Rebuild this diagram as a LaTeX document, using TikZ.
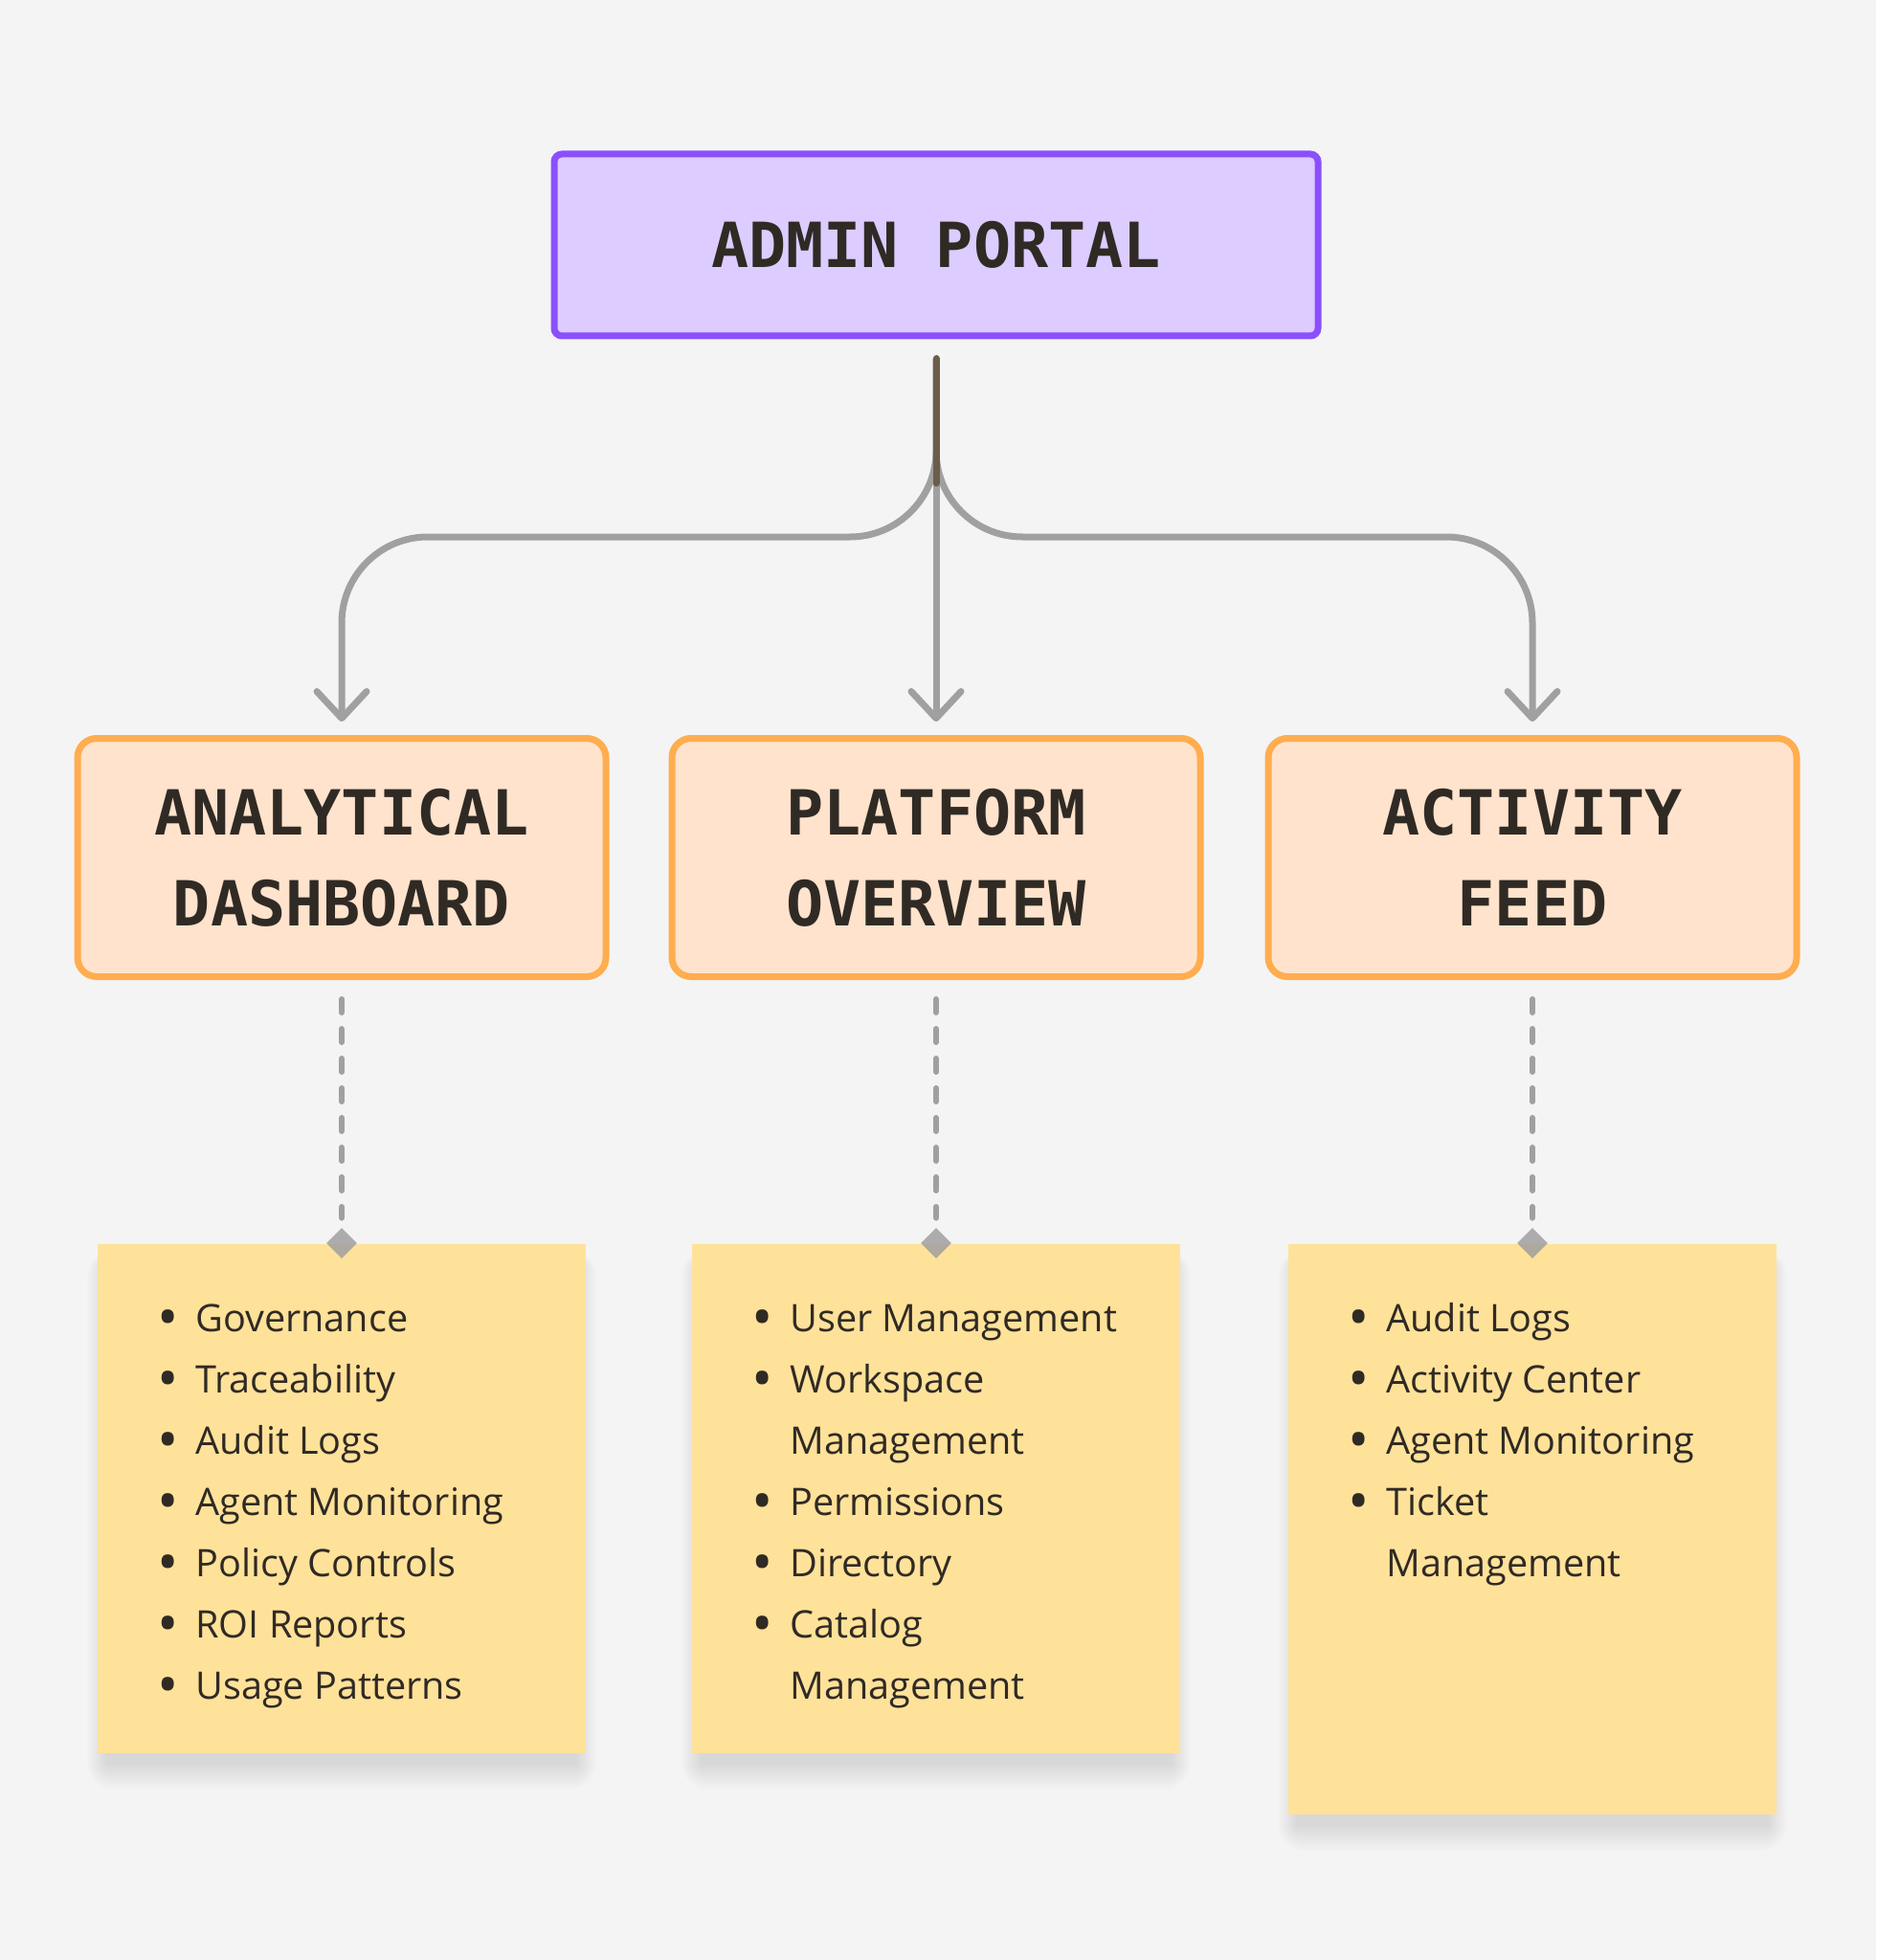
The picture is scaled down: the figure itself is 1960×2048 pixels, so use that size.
\documentclass[tikz,border=0pt]{standalone}
\usepackage{fontspec}
\setmainfont{Open Sans}
\newfontfamily\boxfont{DejaVu Sans Mono}
\usetikzlibrary{arrows.meta,shapes.geometric}

\definecolor{canvas}{HTML}{F4F4F4}
\definecolor{portalfill}{HTML}{DDCCFF}
\definecolor{portalline}{HTML}{8B50FC}
\definecolor{modfill}{HTML}{FFE3CC}
\definecolor{modline}{HTML}{FFAD4F}
\definecolor{notefill}{HTML}{FFE299}
\definecolor{linkgray}{HTML}{A0A0A0}
\definecolor{stemdark}{HTML}{6B5E48}
\definecolor{inkdark}{HTML}{302A25}

% bullet and hanging indent for the note lists
\newcommand{\itembul}{\strut\makebox[20pt][l]{\raisebox{-0.15em}{\scalebox{1.5}{\textbullet}}}}
\newcommand{\itemgap}{\hspace*{20pt}}

\begin{document}
\begin{tikzpicture}[x=0.5pt,y=-0.5pt,
  portal/.style={draw=portalline, fill=portalfill, line width=3.5pt, rounded corners=4pt,
    minimum width=399pt, minimum height=95pt, inner sep=0pt, text=inkdark,
    font=\boxfont\bfseries\fontsize{32.5pt}{47.5pt}\selectfont},
  module/.style={draw=modline, fill=modfill, line width=3.5pt, rounded corners=10pt,
    minimum width=276pt, minimum height=124.5pt, inner sep=0pt, align=center, text=inkdark,
    font=\boxfont\bfseries\fontsize{32.5pt}{47.5pt}\selectfont},
  note/.style={anchor=north, fill=notefill, minimum width=255pt, inner sep=0pt},
  notesh/.style={black, opacity=.008},
  items/.style={anchor=north west, inner sep=0pt, align=left, text=inkdark,
    font=\fontsize{19.8pt}{32pt}\selectfont},
  pin/.style={diamond, fill=linkgray, fill opacity=.85, minimum size=16pt, inner sep=0pt},
  link/.style={draw=linkgray, line width=3.5pt, rounded corners=45pt,
    -{Straight Barb[length=14pt,width=26pt,round]}, shorten <=10pt, shorten >=7pt},
  dashlink/.style={draw=linkgray, line width=3pt, line cap=round,
    dash pattern=on 7pt off 8.5pt, shorten <=10pt, shorten >=5pt},
  stem/.style={draw=stemdark, line width=3.5pt, line cap=round, shorten <=10pt}]

  \fill[canvas] (0,0) rectangle (1960,2048);
  \useasboundingbox (0,0) rectangle (1960,2048);

  % top
  \node[portal] (portal) at (978,256) {ADMIN PORTAL};

  % modules
  \node[module] (ana)  at (357,896)  {ANALYTICAL\\DASHBOARD};
  \node[module] (plat) at (978,896)  {PLATFORM\\OVERVIEW};
  \node[module] (act)  at (1601,896) {ACTIVITY\\FEED};

  % connectors
  \coordinate (hbar)  at (978,561);
  \coordinate (split) at (978,505);
  \draw[link] (portal.south) -- (hbar) -| (ana.north);
  \draw[link] (portal.south) -- (hbar) -| (act.north);
  \draw[link] (portal.south) -- (plat.north);
  \draw[stem] (portal.south) -- (split);

  % soft shadows under the notes
  \foreach \cx/\cy in {357/1832,978/1832,1601/1896}
    \foreach \r in {1,...,14}
      \fill[notesh, rounded corners=\r pt]
        (\cx-245-\r*1.5,1320-\r) rectangle (\cx+245+\r*1.5,\cy+10+\r*2);

  % notes
  \node[note, minimum height=266pt] (noteA) at (357,1300) {};
  \node[note, minimum height=266pt] (noteP) at (978,1300) {};
  \node[note, minimum height=298pt] (noteF) at (1601,1300) {};

  \node[items] (listA) at (164,1346) {\itembul Governance\\ \itembul Traceability\\ \itembul Audit Logs\\
    \itembul Agent Monitoring\\ \itembul Policy Controls\\ \itembul ROI Reports\\ \itembul Usage Patterns};
  \node[items] (listP) at (785,1346) {\itembul User Management\\ \itembul Workspace\\ \itemgap Management\\
    \itembul Permissions\\ \itembul Directory\\ \itembul Catalog\\ \itemgap Management};
  \node[items] (listF) at (1408,1346) {\itembul Audit Logs\\ \itembul Activity Center\\ \itembul Agent Monitoring\\
    \itembul Ticket\\ \itemgap Management};

  % pins
  \node[pin] (pinA) at (357,1299) {};
  \node[pin] (pinP) at (978,1299) {};
  \node[pin] (pinF) at (1601,1299) {};

  \draw[dashlink] (ana.south)  -- (pinA.north);
  \draw[dashlink] (plat.south) -- (pinP.north);
  \draw[dashlink] (act.south)  -- (pinF.north);
\end{tikzpicture}
\end{document}
